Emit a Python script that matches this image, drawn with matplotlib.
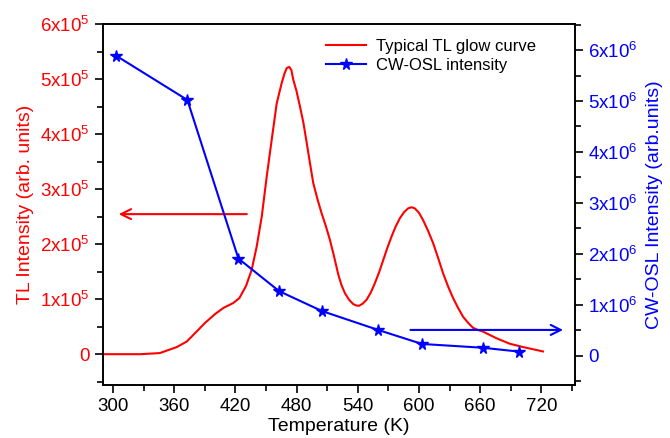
import matplotlib
matplotlib.use("Agg")
import matplotlib.pyplot as plt
from matplotlib.ticker import MultipleLocator, FixedLocator

plt.rcParams['font.family'] = ['Liberation Sans', 'DejaVu Sans']
plt.rcParams['mathtext.fontset'] = 'custom'
plt.rcParams['mathtext.rm'] = 'Liberation Sans'
plt.rcParams['mathtext.default'] = 'regular'

# TL glow curve (temperature in K, intensity in units of 1e5)
tl_temp = [290, 327, 346, 362.7, 372.4, 382, 390.4, 400.2, 408.3, 418, 424, 430.5,
           436, 441, 445.9, 450.8, 455.7, 460.6, 465.5, 468.2, 470.4, 472.9, 475.0,
           476.8, 480.0, 483.4, 486.8, 490, 493.2, 496.4, 500.5, 504.6, 508.7,
           512.7, 516.5, 520.9, 524.0, 527.4, 531.5, 535.6, 538.5, 541.4, 545.0,
           548.7, 552.8, 556.8, 561.0, 565, 569.0, 573.2, 577.2, 581.3, 585.4,
           589.4, 592.7, 596, 600.0, 604, 609.0, 613.9, 618.8, 623.7, 628.6,
           633.5, 638.4, 643.3, 648.2, 653, 657.9, 662.8, 669.4, 676, 682.5,
           689, 695.5, 702, 711.8, 721.6]
tl_int = [0, 0, 0.02, 0.13, 0.23, 0.41, 0.57, 0.73, 0.84, 0.93, 1.02, 1.24,
          1.53, 1.96, 2.5, 3.23, 3.9, 4.56, 4.93, 5.1, 5.2, 5.22, 5.16,
          4.99, 4.78, 4.5, 4.2, 3.84, 3.47, 3.11, 2.82, 2.56, 2.33,
          2.08, 1.80, 1.45, 1.26, 1.11, 0.99, 0.91, 0.885, 0.88, 0.92,
          0.99, 1.12, 1.29, 1.49, 1.71, 1.93, 2.14, 2.32, 2.47, 2.58,
          2.65, 2.67, 2.65, 2.57, 2.44, 2.24, 2.02, 1.75, 1.47, 1.23,
          1.02, 0.84, 0.68, 0.57, 0.48, 0.44, 0.41, 0.35, 0.29, 0.24,
          0.19, 0.16, 0.13, 0.09, 0.05]

# CW-OSL intensity (units of 1e6)
osl_temp = [303, 373, 423, 463, 505, 560, 603, 663, 698]
osl_int = [5.89, 5.02, 1.91, 1.27, 0.88, 0.51, 0.235, 0.16, 0.085]

x_ticks = [300, 360, 420, 480, 540, 600, 660, 720]
left_ticks = [0, 1, 2, 3, 4, 5, 6]
right_ticks = [0, 1, 2, 3, 4, 5, 6]

RED = '#ff0000'
BLUE = '#0000ff'

fig = plt.figure(figsize=(6.7, 4.38), dpi=100)
ax = fig.add_axes([0.1533, 0.121, 0.7049, 0.8242])
ax2 = ax.twinx()

l1, = ax.plot(tl_temp, [v * 1e5 for v in tl_int], color=RED, lw=1.5,
              label='Typical TL glow curve')
l2, = ax2.plot(osl_temp, [v * 1e6 for v in osl_int], color=BLUE, lw=1.5,
               marker='*', markersize=8.5, label='CW-OSL intensity')

ax.set_xlim(290, 753)
ax.set_ylim(-0.56e5, 6e5)
ax2.set_ylim(-0.57e6, 6.51e6)

ax.xaxis.set_major_locator(FixedLocator(x_ticks))
ax.xaxis.set_minor_locator(MultipleLocator(30))
ax.set_xticklabels([str(t) for t in x_ticks])

ax.yaxis.set_major_locator(FixedLocator([v * 1e5 for v in left_ticks]))
ax.yaxis.set_minor_locator(MultipleLocator(0.5e5))
ax.set_yticklabels(['0' if v == 0 else r'$\mathregular{%dx10^{5}}$' % v for v in left_ticks])

ax2.yaxis.set_major_locator(FixedLocator([v * 1e6 for v in right_ticks]))
ax2.yaxis.set_minor_locator(MultipleLocator(0.5e6))
ax2.set_yticklabels(['0' if v == 0 else r'$\mathregular{%dx10^{6}}$' % v for v in right_ticks])

ax.tick_params(axis='x', which='major', direction='out', length=6, width=1.2,
               labelsize=13.5, top=False)
ax.tick_params(axis='x', which='minor', direction='out', length=4, width=1.2, top=False)
ax.tick_params(axis='y', which='major', direction='out', length=6, width=1.2,
               labelsize=13.5, labelcolor=RED, color='black')
ax.tick_params(axis='y', which='minor', direction='out', length=4, width=1.2, color='black')
ax2.tick_params(axis='y', which='major', direction='out', length=6, width=1.2,
                labelsize=13.5, labelcolor=BLUE, color='black')
ax2.tick_params(axis='y', which='minor', direction='out', length=4, width=1.2, color='black')

for a in (ax, ax2):
    for s in a.spines.values():
        s.set_linewidth(1.2)

ax.set_xlabel('Temperature (K)', fontsize=14, labelpad=2)
ax.set_ylabel('TL Intensity (arb. units)', fontsize=14, color=RED, labelpad=4)
ax2.set_ylabel('CW-OSL Intensity (arb.units)', fontsize=14, color=BLUE, labelpad=6)

# Arrows pointing to the axis each curve belongs to
ax.annotate('', xy=(303, 2.545e5), xytext=(434, 2.545e5),
            arrowprops=dict(arrowstyle='->', color=RED, lw=1.5,
                            mutation_scale=18))
ax2.annotate('', xy=(744, 0.51e6), xytext=(589, 0.51e6),
             arrowprops=dict(arrowstyle='->', color=BLUE, lw=1.5,
                             mutation_scale=18))

ax2.legend(handles=[l1, l2], loc='upper right', frameon=False, fontsize=12,
           bbox_to_anchor=(0.95, 1.0), handlelength=2.4, handletextpad=0.6,
           labelspacing=0.25)

fig.savefig('out.png', dpi=100)
